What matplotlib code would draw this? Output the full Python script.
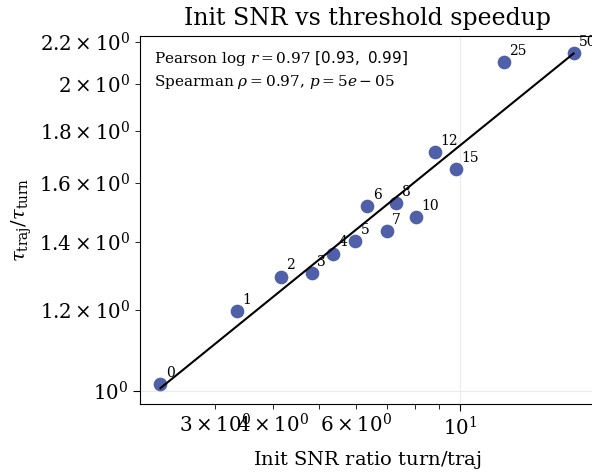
import numpy as np
import matplotlib
matplotlib.use("Agg")
import matplotlib.pyplot as plt

plt.rcParams['font.family'] = 'serif'
plt.rcParams['font.serif'] = ['DejaVu Serif']
plt.rcParams['mathtext.fontset'] = 'dejavuserif'

# point labels (step counts) and values
labels = ['0', '1', '2', '3', '4', '5', '6', '7', '8', '10', '12', '15', '25', '50']
snr_ratio = [2.30, 3.34, 4.15, 4.83, 5.35, 5.97, 6.35, 6.98, 7.30, 8.06, 8.84, 9.80, 12.40, 17.46]
speedup = [1.015, 1.198, 1.295, 1.306, 1.364, 1.404, 1.519, 1.436, 1.530, 1.481, 1.716, 1.651, 2.102, 2.145]

x = np.array(snr_ratio)
y = np.array(speedup)

fig = plt.figure(figsize=(5.92, 4.75), dpi=100)
ax = fig.add_axes([140/592, 71/475, 454/592, 368/475])

ax.grid(True, which='major', color='#ebebeb', linewidth=0.8, zorder=0)
ax.scatter(x, y, s=78, color='#4f5fa8', zorder=3)
for lab, xi, yi in zip(labels, x, y):
    ax.annotate(lab, (xi, yi), xytext=(4, 3), textcoords='offset points',
                fontsize=10, ha='left', va='bottom', zorder=4)

# log-log fit line
k, b = np.polyfit(np.log10(x), np.log10(y), 1)
xf = np.array([x.min(), x.max()])
ax.plot(xf, 10**(k*np.log10(xf) + b), color='black', linewidth=1.5, zorder=4)

ax.set_xscale('log')
ax.set_yscale('log')
ax.set_xlim(2.08, 19.3)
ax.set_ylim(0.971, 2.23)

ax.tick_params(axis='both', which='both', labelsize=14.3, direction='out')
ax.tick_params(which='major', length=5)
ax.tick_params(which='minor', length=3.5)

ax.text(0.03, 0.965,
        'Pearson log $r=0.97$ $\\mathsf{[0.93,\\ 0.99]}$\nSpearman $\\rho=0.97$, $p=5e-05$',
        transform=ax.transAxes, fontsize=11, va='top', ha='left', linespacing=1.4)

ax.set_title('Init SNR vs threshold speedup', fontsize=17, pad=8)
ax.set_xlabel('Init SNR ratio $\\mathrm{turn/traj}$', fontsize=14, labelpad=7)
ax.set_ylabel('$\\tau_{\\mathrm{traj}}/\\tau_{\\mathrm{turn}}$', fontsize=14)

plt.savefig('out.png', dpi=100)
